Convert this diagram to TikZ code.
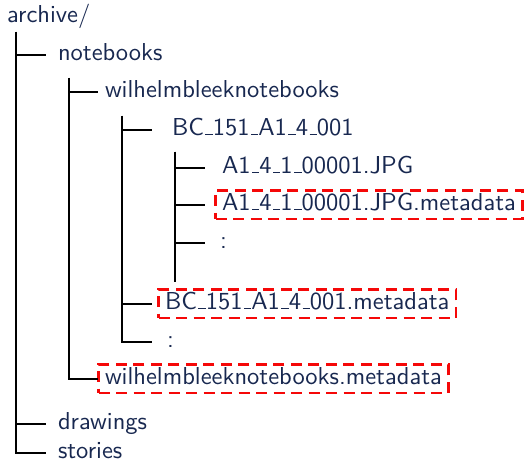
\documentclass[tikz,border=0pt]{standalone}
\usepackage{fontspec}
\setsansfont{lmsans10-regular.otf}
\usetikzlibrary{calc}
\definecolor{txt}{RGB}{24,40,80}
\definecolor{boxred}{RGB}{245,8,8}
\newcommand\us{\leavevmode\kern.06em\vbox{\hrule width .3em height 1.7pt}}
\begin{document}
\fontsize{24.5}{30}\selectfont\sffamily
\begin{tikzpicture}[x=1pt,y=-1pt,
  every node/.style={text=txt},
  item/.style={inner sep=0pt, outer sep=0pt, anchor=mid west},
  meta/.style={item, draw=boxred, line width=2.8pt, dash pattern=on 11pt off 6.5pt,
    inner xsep=6.5pt, inner ysep=0pt, text height=20pt, text depth=8.5pt},
  tree/.style={line width=2pt, black}]
\useasboundingbox (0,0) rectangle (527,462);
% nodes
\node[item] (root) at (7,17.5) {archive/};
\node[item] (nb) at (58,55) {notebooks};
\node[item] (wb) at (105,92) {wilhelmbleeknotebooks};
\node[item] (bc) at (172,130) {BC\us151\us A1\us4\us001};
\node[item] (jpg) at (222,168) {A1\us4\us1\us00001.JPG};
\node[meta] (jpgm) at (215.5,205) {A1\us4\us1\us00001.JPG.metadata};
\node[item] (d3) at (220,243) {:};
\node[meta] (bcm) at (158.5,304) {BC\us151\us A1\us4\us001.metadata};
\node[item] (d2) at (167,342) {:};
\node[meta] (wbm) at (98.5,379) {wilhelmbleeknotebooks.metadata};
\node[item] (dr) at (58,424) {drawings};
\node[item] (st) at (58,453) {stories};
% vertical starts
\coordinate (v0) at (16,32);
\coordinate (v1) at (69,78);
\coordinate (v2) at (122,116);
\coordinate (v3) at (175,152);
% connectors
\draw[tree] (v0) |- ([xshift=30pt]v0 |- nb.mid west);
\draw[tree] (v0) |- ([xshift=30pt]v0 |- dr.mid west);
\draw[tree] (v0) |- ([xshift=30pt]v0 |- st.mid west);
\draw[tree] (v1) |- ([xshift=29pt]v1 |- wb.mid west);
\draw[tree] (v1) |- ([xshift=29pt]v1 |- wbm.mid west);
\draw[tree] (v2) |- ([xshift=30pt]v2 |- bc.mid west);
\draw[tree] (v2) |- ([xshift=30pt]v2 |- bcm.mid west);
\draw[tree] (v2) |- ([xshift=30pt]v2 |- d2.mid west);
\draw[tree] (v3) |- ([xshift=30pt]v3 |- jpg.mid west);
\draw[tree] (v3) |- ([xshift=30pt]v3 |- jpgm.mid west);
\draw[tree] (v3) |- ([xshift=30pt]v3 |- d3.mid west);
\draw[tree] (v3) -- ++(0,130);
\end{tikzpicture}
\end{document}
